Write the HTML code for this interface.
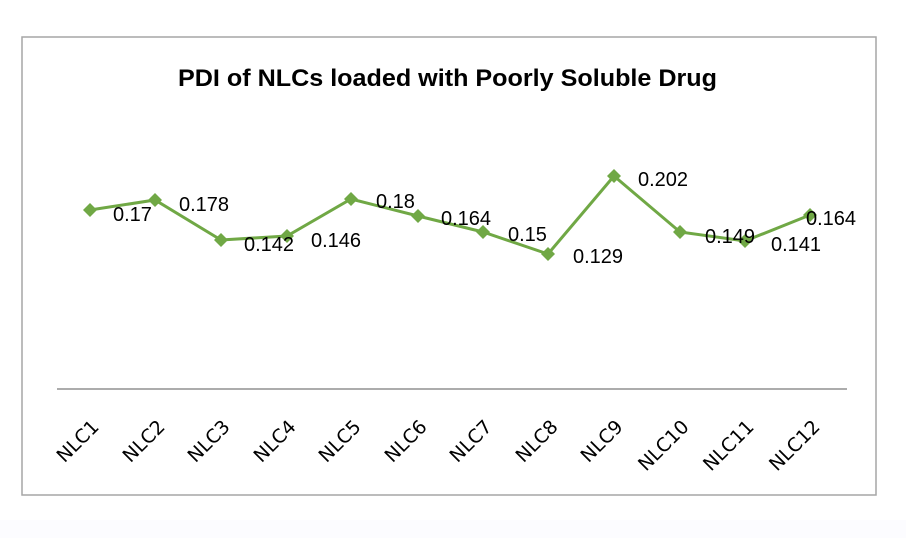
<!DOCTYPE html>
<html><head><style>body{margin:0;background:#fff}svg{display:block}</style></head><body>
<svg width="906" height="538" xmlns="http://www.w3.org/2000/svg">
<rect x="0" y="0" width="906" height="538" fill="#fff"/>
<rect x="0" y="520" width="906" height="18" fill="#fcfcff"/>
<rect x="22" y="37" width="854" height="458" fill="#fff" stroke="#a6a6a6" stroke-width="1.5"/>
<text x="178" y="86" textLength="539" lengthAdjust="spacingAndGlyphs" font-family="Liberation Sans, sans-serif" font-weight="bold" font-size="24">PDI of NLCs loaded with Poorly Soluble Drug</text>
<line x1="57" y1="389" x2="847" y2="389" stroke="#909090" stroke-width="1.5"/>
<polyline fill="none" stroke="#70a845" stroke-width="3" points="90,210 155,200 221,240 287,236 351,199 418,216 483,232 548,254 614,176 680,232 745,241 810,215"/>
<g fill="#70a845">
<path d="M90,203l7,7l-7,7l-7,-7z"/><path d="M155,193l7,7l-7,7l-7,-7z"/><path d="M221,233l7,7l-7,7l-7,-7z"/><path d="M287,229l7,7l-7,7l-7,-7z"/><path d="M351,192l7,7l-7,7l-7,-7z"/><path d="M418,209l7,7l-7,7l-7,-7z"/><path d="M483,225l7,7l-7,7l-7,-7z"/><path d="M548,247l7,7l-7,7l-7,-7z"/><path d="M614,169l7,7l-7,7l-7,-7z"/><path d="M680,225l7,7l-7,7l-7,-7z"/><path d="M745,234l7,7l-7,7l-7,-7z"/><path d="M810,208l7,7l-7,7l-7,-7z"/>
</g>
<g font-family="Liberation Sans, sans-serif" font-size="20" fill="#000">
<text x="113" y="221">0.17</text><text x="179" y="211">0.178</text><text x="244" y="251">0.142</text><text x="311" y="247">0.146</text><text x="376" y="208">0.18</text><text x="441" y="225">0.164</text><text x="508" y="241">0.15</text><text x="573" y="263">0.129</text><text x="638" y="186">0.202</text><text x="705" y="243">0.149</text><text x="771" y="251">0.141</text><text x="806" y="225">0.164</text>
</g>
<g font-family="DejaVu Sans, sans-serif" font-size="19" text-anchor="end" fill="#000">
<text transform="translate(100,428) rotate(-45)">NLC1</text>
<text transform="translate(166,428) rotate(-45)">NLC2</text>
<text transform="translate(231,428) rotate(-45)">NLC3</text>
<text transform="translate(297,428) rotate(-45)">NLC4</text>
<text transform="translate(362,428) rotate(-45)">NLC5</text>
<text transform="translate(428,428) rotate(-45)">NLC6</text>
<text transform="translate(493,428) rotate(-45)">NLC7</text>
<text transform="translate(559,428) rotate(-45)">NLC8</text>
<text transform="translate(624,428) rotate(-45)">NLC9</text>
<text transform="translate(690,428) rotate(-45)">NLC10</text>
<text transform="translate(755,428) rotate(-45)">NLC11</text>
<text transform="translate(821,428) rotate(-45)">NLC12</text>
</g>
</svg>
</body></html>
